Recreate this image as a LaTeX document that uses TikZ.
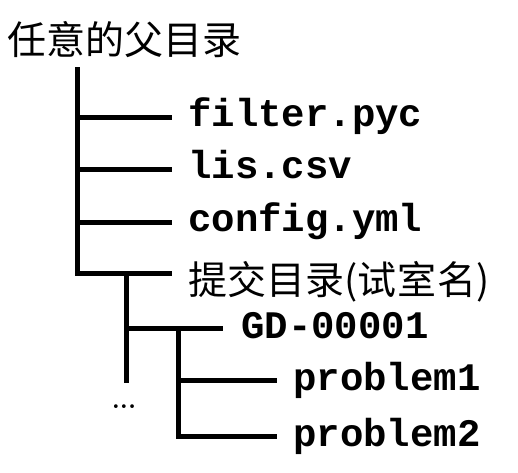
\documentclass[tikz,border=0pt]{standalone}
\usepackage{fontspec}
\setmonofont{Liberation Mono}
\newfontfamily\cjk{Noto Sans CJK SC}
\begin{document}
\begin{tikzpicture}[x=1pt,y=-1pt,
  tree/.style={line width=5pt, line cap=butt},
  filename/.style={inner sep=0pt, anchor=base west, font=\fontsize{39}{39}\selectfont\ttfamily\bfseries},
  cjktext/.style={inner sep=0pt, anchor=west, font=\fontsize{39}{39}\selectfont\cjk}]
\useasboundingbox (0,0) rectangle (518,472);
\node[cjktext] (root) at (7,40) {任意的父目录};
\node[filename] (f1) at (188,126) {filter.pyc};
\node[filename] (f2) at (188,178) {lis.csv};
\node[filename] (f3) at (188,231) {config.yml};
\node[cjktext] (sub) at (188,282) {提交目录(试\kern1pt 室\kern1pt 名)};
\node[filename] (gd) at (241,338) {GD-00001};
\node[filename] (p1) at (293,390) {problem1};
\node[filename] (p2) at (293,446) {problem2};
\node[inner sep=0pt, anchor=base, font=\fontsize{26}{26}\selectfont\bfseries] (dots) at (124,408) {...};
\coordinate (t0) at (77,67);
\coordinate (c1) at (77,117);
\coordinate (c2) at (77,169);
\coordinate (c3) at (77,222);
\coordinate (c4) at (77,273);
\coordinate (s0) at (126,273);
\coordinate (s2) at (126,383);
\coordinate (s1) at (126,328);
\coordinate (g0) at (178,328);
\coordinate (g1) at (178,380);
\coordinate (g2) at (178,436);
\draw[tree] (t0) |- ([xshift=-16pt]c4 -| sub.west);
\draw[tree] (c1) -- ([xshift=-16pt]c1 -| f1.west);
\draw[tree] (c2) -- ([xshift=-16pt]c2 -| f2.west);
\draw[tree] (c3) -- ([xshift=-16pt]c3 -| f3.west);
\draw[tree] (s0) -- (s2);
\draw[tree] (s1) -- ([xshift=-18pt]s1 -| gd.west);
\draw[tree] (g0) |- ([xshift=-16pt]g2 -| p2.west);
\draw[tree] (g1) -- ([xshift=-16pt]g1 -| p1.west);
\end{tikzpicture}
\end{document}
